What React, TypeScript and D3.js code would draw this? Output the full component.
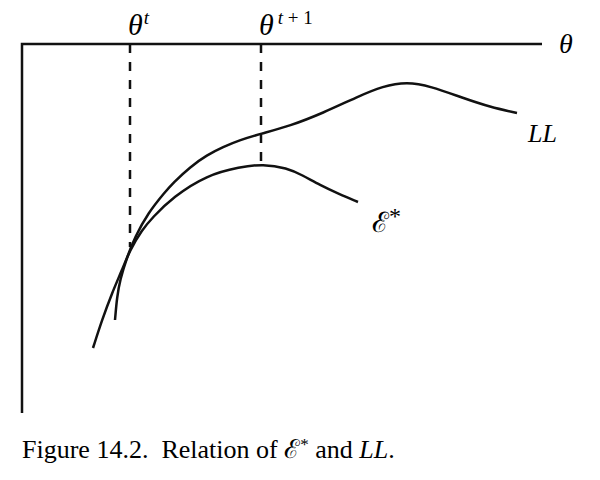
import * as d3 from 'd3'

// curve points: [theta, value]
const llCurve: [number, number][] = [
  [0.93, 0.93], [0.95, 1.16], [0.98, 1.33], [1.05, 1.56], [1.13, 1.76],
  [1.26, 2.0], [1.43, 2.21], [1.51, 2.3], [1.68, 2.46], [1.85, 2.58],
  [2.01, 2.66], [2.18, 2.73], [2.38, 2.79], [2.68, 2.87], [3.01, 3.0],
  [3.35, 3.16], [3.61, 3.27], [3.85, 3.31], [4.08, 3.27], [4.41, 3.15],
  [4.68, 3.06], [4.95, 3.0],
]

const eStarCurve: [number, number][] = [
  [0.71, 0.65], [0.8, 0.93], [0.9, 1.2], [1.0, 1.43], [1.08, 1.63],
  [1.2, 1.83], [1.3, 1.95], [1.51, 2.16], [1.85, 2.38], [2.18, 2.46],
  [2.41, 2.49], [2.65, 2.45], [2.8, 2.38], [2.98, 2.28], [3.17, 2.19],
  [3.36, 2.11],
]

// theta^t and theta^{t+1}, with the height where each dashed guide stops
const thetaMarks = [
  { theta: 1.08, stop: 1.66, sup: 't' },
  { theta: 2.39, stop: 2.48, sup: 't + 1' },
]

const thetaMax = 5.2
const valueMax = 3.69

const width = 600
const height = 480
const serif = '"Liberation Serif", "Times New Roman", serif'

export default function App() {
  const x = d3.scaleLinear().domain([0, thetaMax]).range([22, 542])
  const y = d3.scaleLinear().domain([0, valueMax]).range([413, 44])

  // basis smooths out the small reading errors in the points
  const line = d3.line<[number, number]>()
    .x(d => x(d[0]))
    .y(d => y(d[1]))
    .curve(d3.curveBasis)

  const llEnd = llCurve[llCurve.length - 1]
  const eEnd = eStarCurve[eStarCurve.length - 1]

  return (
    <svg
      width={width}
      height={height}
      style={{ position: 'absolute', left: 0, top: 0, background: '#fff' }}
      fontFamily={serif}
    >
      {/* axes: theta runs along the top, value down the left */}
      <path
        d={`M${x(0)},${y(0)}V${y(valueMax)}H${x(thetaMax)}`}
        fill="none"
        stroke="#111"
        strokeWidth={2.5}
      />
      <text x={x(thetaMax) + 17} y={y(valueMax) + 9} fontSize={28} fontStyle="italic">θ</text>

      {thetaMarks.map(m => (
        <g key={m.sup}>
          <line
            x1={x(m.theta)} x2={x(m.theta)}
            y1={y(valueMax)} y2={y(m.stop)}
            stroke="#111"
            strokeWidth={2.5}
            strokeDasharray="9 9"
          />
          <text x={x(m.theta) - 2} y={y(valueMax) - 9} fontSize={30}>
            <tspan fontStyle="italic">θ</tspan>
            <tspan dx={m.sup === 't' ? 1 : 4} dy={-11} fontSize={19}>
              <tspan fontStyle="italic">t</tspan>
              {m.sup === 't' ? null : <tspan> + 1</tspan>}
            </tspan>
          </text>
        </g>
      ))}

      <path d={line(llCurve) || ''} fill="none" stroke="#111" strokeWidth={2.5} />
      <path d={line(eStarCurve) || ''} fill="none" stroke="#111" strokeWidth={2.5} />

      <text x={x(llEnd[0]) + 11} y={y(llEnd[1]) + 29} fontSize={26} fontStyle="italic">LL</text>
      <text x={x(eEnd[0]) + 14} y={y(eEnd[1]) + 30} fontSize={28}>
        ℰ<tspan dy={-8} fontSize={24}>*</tspan>
      </text>

      <text x={22} y={458} fontSize={26}>
        Figure 14.2.{'\u00a0 '}Relation of ℰ<tspan dy={-8} fontSize={17}>*</tspan>
        <tspan dy={8}> and </tspan>
        <tspan fontStyle="italic">LL</tspan>.
      </text>
    </svg>
  )
}
